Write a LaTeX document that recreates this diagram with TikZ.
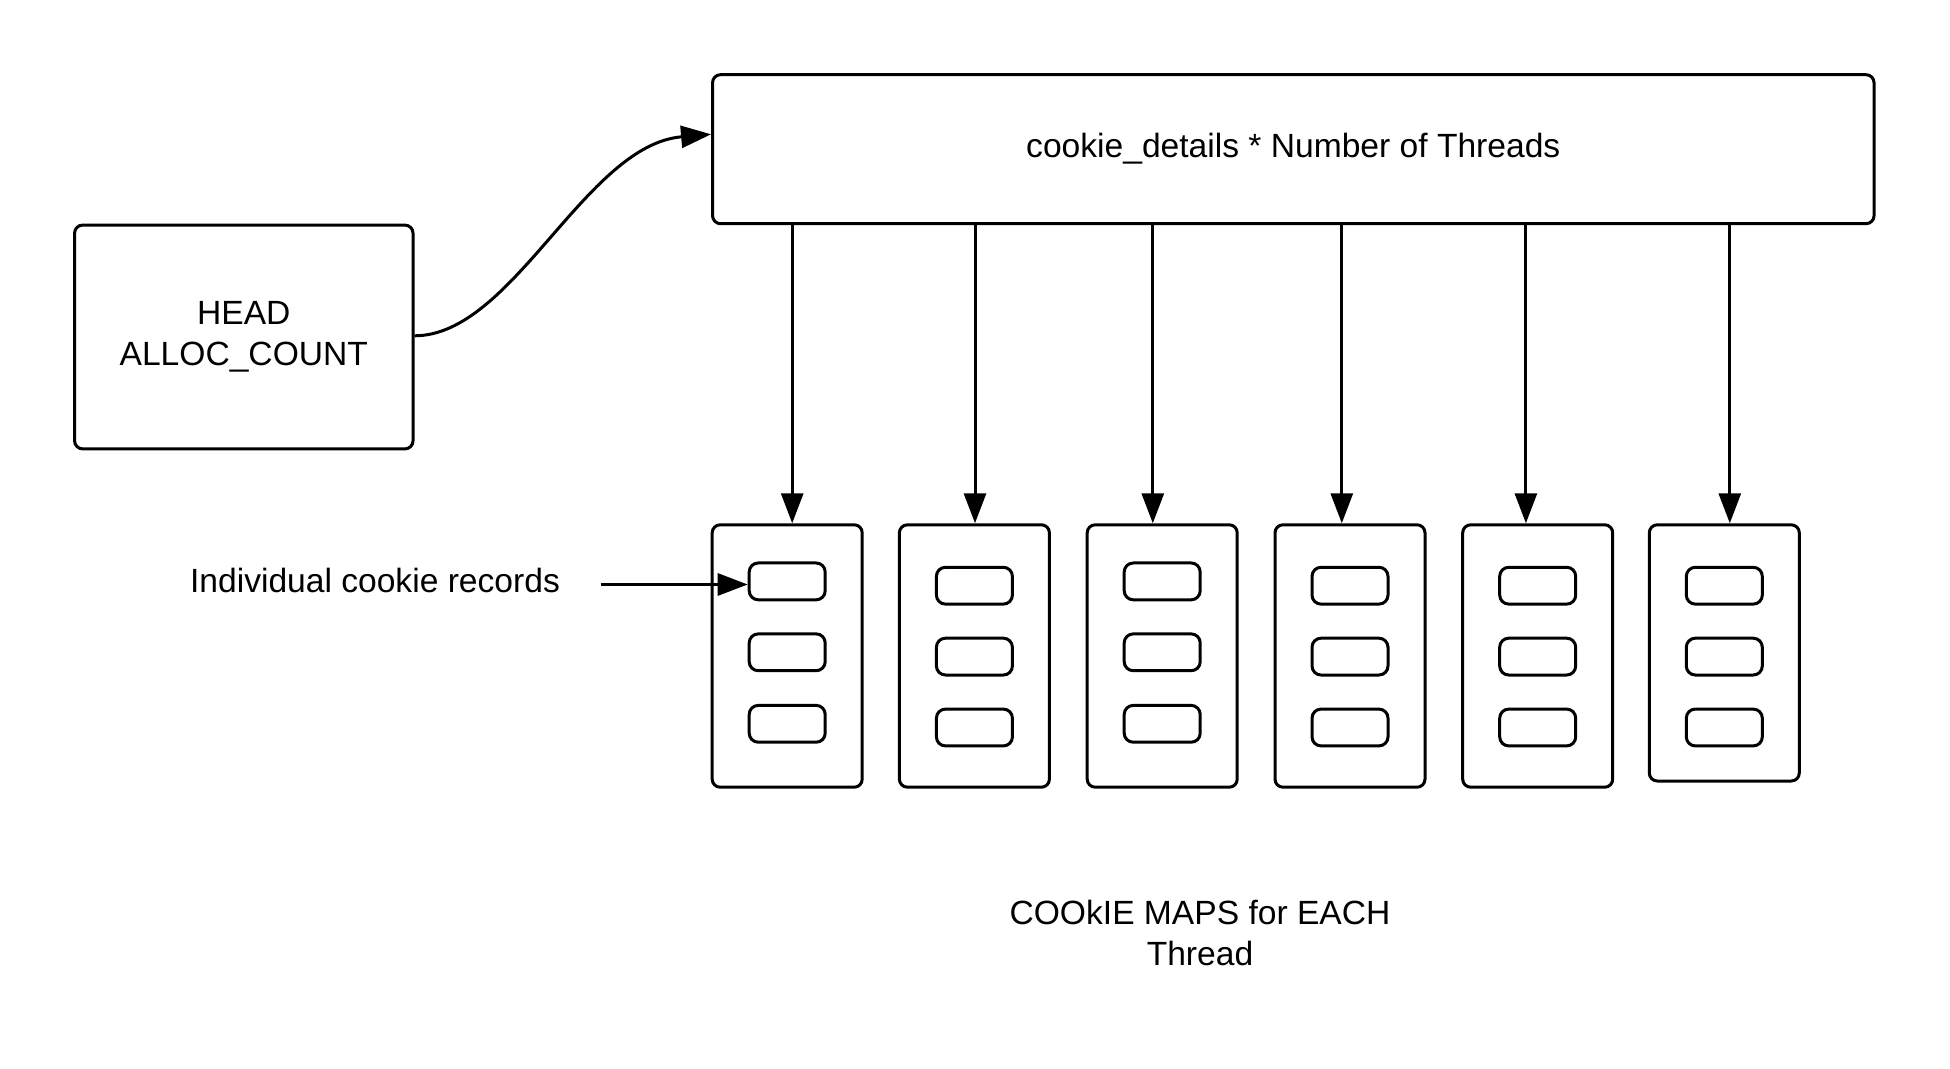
\documentclass[tikz,border=0pt]{standalone}
\usepackage{fontspec}
\setmainfont{Liberation Sans}
\usetikzlibrary{arrows.meta}
\begin{document}
\begin{tikzpicture}[x=0.5pt,y=-0.5pt,
  box/.style={draw,line width=1.5pt,rounded corners=4pt,inner sep=0pt},
  mapbox/.style={box,minimum width=75pt},
  recbox/.style={box,rounded corners=4.5pt,minimum width=38pt,minimum height=18.4pt},
  lbl/.style={font=\fontsize{16.8}{20.5}\selectfont,align=center},
  arr/.style={line width=1.5pt,-{Triangle[length=15pt,width=11pt]}}]
\useasboundingbox (0,0) rectangle (1950,1069);
% top box and head box
\node[box,minimum width=580.75pt,minimum height=74.5pt] (big) at (1293.3,149.2) {};
\node[lbl] (bigt) at (1293.3,149) {cookie\_details * Number of Threads};
\node[box,minimum width=169.2pt,minimum height=111.9pt] (head) at (243.8,337) {};
\node[lbl] (headt) at (243.8,336.7) {HEAD\\ALLOC\_COUNT};
% cookie maps
\node[mapbox,minimum height=131.2pt] (m1) at (787.2,656) {};
\node[mapbox,minimum height=131.2pt] (m2) at (974.4,656) {};
\node[mapbox,minimum height=131.2pt] (m3) at (1162.2,656) {};
\node[mapbox,minimum height=131.2pt] (m4) at (1350,656) {};
\node[mapbox,minimum height=131.2pt] (m5) at (1537.7,656) {};
\node[mapbox,minimum height=128.1pt] (m6) at (1724.3,652.9) {};
% records
\foreach \m/\x/\ya/\yb/\yc in {1/787.2/581.4/652.3/723.8, 2/974.4/585.7/656.6/727.5, 3/1162.2/581.4/652.3/723.8, 4/1350/585.7/656.6/727.5, 5/1537.7/585.7/656.6/727.5, 6/1724.3/585.7/656.6/727.5}{
  \node[recbox] (r\m a) at (\x,\ya) {};
  \node[recbox] (r\m b) at (\x,\yb) {};
  \node[recbox] (r\m c) at (\x,\yc) {};
}
% arrow x positions
\coordinate (a1) at (792.2,0);
\coordinate (a2) at (975,0);
\coordinate (a3) at (1152.8,0);
\coordinate (a4) at (1341.8,0);
\coordinate (a5) at (1525.9,0);
\coordinate (a6) at (1729.8,0);
\foreach \i in {1,...,6}{
  \draw[arr] (big.south -| a\i) -- (m\i.north -| a\i);
}
% curve head -> big
\draw[arr] (head.east |- 0,335.8) .. controls (513,335.8) and (585,145) .. (big.west |- 0,134.3);
% labels
\node[lbl] (ind) at (375,580.8) {Individual cookie records};
\coordinate (indstart) at (600.7,584.5);
\draw[arr] (indstart) -- (indstart -| r1a.west);
\node[lbl] (maps) at (1200,932.7) {COOkIE MAPS for EACH\\Thread};
\end{tikzpicture}
\end{document}
